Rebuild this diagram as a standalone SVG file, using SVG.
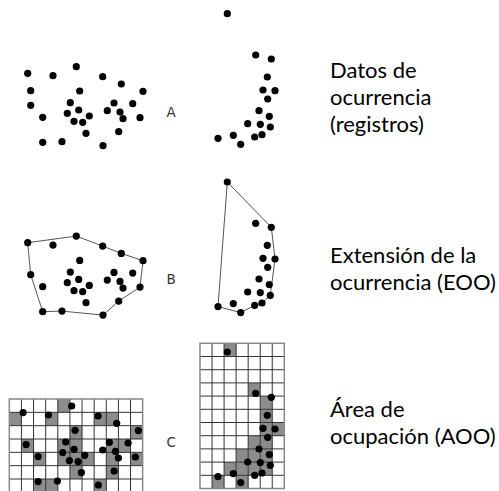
<svg xmlns="http://www.w3.org/2000/svg" xmlns:xlink="http://www.w3.org/1999/xlink" width="499" height="491" viewBox="0 0 499 491">
<style>
.dot{fill:#000}
.hull{fill:none;stroke:#555;stroke-width:1}
.shade{fill:#8c8c8c}
.gl{fill:none;stroke:#333;stroke-width:1}
.gb{fill:none;stroke:#888;stroke-width:1.5}
.lbl{font-family:"DejaVu Sans",sans-serif;font-size:13.5px;fill:#333}
.cap{font-family:Lato,"Open Sans",sans-serif;font-size:22px;fill:#000}
</style>
<defs>
<g id="dotsL" class="dot">
<circle cx="27.7" cy="73.3" r="3.6"/><circle cx="53" cy="75.7" r="3.6"/><circle cx="76.3" cy="66.7" r="3.6"/>
<circle cx="102.7" cy="76.7" r="3.6"/><circle cx="121.3" cy="84" r="3.6"/><circle cx="143" cy="91.3" r="3.6"/>
<circle cx="79.7" cy="91" r="3.6"/><circle cx="30.7" cy="105.3" r="3.6"/><circle cx="70.3" cy="102.7" r="3.6"/>
<circle cx="114" cy="103" r="3.6"/><circle cx="132.7" cy="103.7" r="3.6"/><circle cx="42.7" cy="117.3" r="3.6"/>
<circle cx="67.3" cy="113.3" r="3.6"/><circle cx="78.7" cy="110" r="3.6"/><circle cx="89.3" cy="116" r="3.6"/>
<circle cx="107.3" cy="110.7" r="3.6"/><circle cx="120" cy="112" r="3.6"/><circle cx="123" cy="118.7" r="3.6"/>
<circle cx="140" cy="117.7" r="3.6"/><circle cx="74" cy="121.3" r="3.6"/><circle cx="82.7" cy="122.3" r="3.6"/>
<circle cx="86" cy="133.3" r="3.6"/><circle cx="118.7" cy="131.7" r="3.6"/><circle cx="42.7" cy="142.3" r="3.6"/>
<circle cx="62" cy="141.7" r="3.6"/><circle cx="103" cy="145.7" r="3.6"/>
</g>
<g id="dotsR" class="dot">
<circle cx="227.3" cy="13.7" r="3.6"/><circle cx="255.7" cy="55" r="3.6"/><circle cx="271.3" cy="59" r="3.6"/>
<circle cx="267.3" cy="77" r="3.6"/><circle cx="263" cy="90" r="3.6"/><circle cx="275" cy="90.7" r="3.6"/>
<circle cx="267.7" cy="99" r="3.6"/><circle cx="259" cy="110.7" r="3.6"/><circle cx="269.3" cy="116.3" r="3.6"/>
<circle cx="247.7" cy="123.7" r="3.6"/><circle cx="260.3" cy="124.3" r="3.6"/><circle cx="270.3" cy="127" r="3.6"/>
<circle cx="218" cy="138.3" r="3.6"/><circle cx="233.3" cy="135.3" r="3.6"/><circle cx="240.7" cy="144.3" r="3.6"/>
<circle cx="254.7" cy="137" r="3.6"/><circle cx="262" cy="134.7" r="3.6"/>
</g>
</defs>

<g id="rowA">
<use xlink:href="#dotsL"/>
<circle class="dot" cx="30.7" cy="90.7" r="3.6"/>
<use xlink:href="#dotsR"/>
<text class="lbl" x="166.5" y="116.7">A</text>
</g>

<g id="rowB">
<polygon class="hull" points="27.7,242.7 76.3,236.1 102.7,246.1 121.3,253.4 143,260.7 140,287.1 118.7,301.1 103,315.1 62,311.1 42.7,311.7 30.7,274.7"/>
<use xlink:href="#dotsL" transform="translate(0,169.4)"/>
<polygon class="hull" points="227.3,182 271.3,227.3 275,259 270.3,295.3 262,303 254.7,305.3 240.7,312.6 218,306.6"/>
<use xlink:href="#dotsR" transform="translate(0,168.3)"/>
<text class="lbl" x="166.5" y="283.5">B</text>
</g>

<g id="rowC">
<g class="shade">
<rect x="57.81" y="399" width="12.12" height="13.33"/>
<rect x="9.33" y="412.33" width="12.12" height="13.33"/><rect x="45.69" y="412.33" width="12.12" height="13.33"/><rect x="94.17" y="412.33" width="12.12" height="13.33"/><rect x="106.29" y="412.33" width="12.12" height="13.33"/>
<rect x="69.93" y="425.67" width="12.12" height="13.33"/><rect x="130.53" y="425.67" width="12.12" height="13.33"/>
<rect x="21.45" y="439" width="12.12" height="13.33"/><rect x="57.81" y="439" width="12.12" height="13.33"/><rect x="69.93" y="439" width="12.12" height="13.33"/><rect x="106.29" y="439" width="12.12" height="13.33"/><rect x="118.41" y="439" width="12.12" height="13.33"/>
<rect x="33.57" y="452.33" width="12.12" height="13.33"/><rect x="57.81" y="452.33" width="12.12" height="13.33"/><rect x="69.93" y="452.33" width="12.12" height="13.33"/><rect x="82.05" y="452.33" width="12.12" height="13.33"/><rect x="106.29" y="452.33" width="12.12" height="13.33"/><rect x="130.53" y="452.33" width="12.12" height="13.33"/>
<rect x="69.93" y="465.67" width="12.12" height="13.33"/><rect x="106.29" y="465.67" width="12.12" height="13.33"/>
<rect x="33.57" y="479" width="12.12" height="13.33"/><rect x="45.69" y="479" width="12.12" height="13.33"/><rect x="94.17" y="479" width="12.12" height="13.33"/>

<rect x="224.08" y="343.3" width="12.04" height="13.2"/>
<rect x="248.16" y="382.9" width="12.04" height="13.2"/>
<rect x="260.2" y="396.1" width="12.04" height="13.2"/>
<rect x="260.2" y="409.3" width="12.04" height="13.2"/>
<rect x="260.2" y="422.5" width="12.04" height="13.2"/><rect x="272.24" y="422.5" width="12.04" height="13.2"/>
<rect x="248.16" y="435.7" width="12.04" height="13.2"/><rect x="260.2" y="435.7" width="12.04" height="13.2"/>
<rect x="236.12" y="448.9" width="12.04" height="13.2"/><rect x="248.16" y="448.9" width="12.04" height="13.2"/><rect x="260.2" y="448.9" width="12.04" height="13.2"/>
<rect x="224.08" y="462.1" width="12.04" height="13.2"/><rect x="236.12" y="462.1" width="12.04" height="13.2"/><rect x="248.16" y="462.1" width="12.04" height="13.2"/><rect x="260.2" y="462.1" width="12.04" height="13.2"/>
<rect x="212.04" y="475.3" width="12.04" height="13.2"/><rect x="236.12" y="475.3" width="12.04" height="13.2"/>
</g>
<path class="gl" d="M21.45,399V492M33.57,399V492M45.69,399V492M57.81,399V492M69.93,399V492M82.05,399V492M94.17,399V492M106.29,399V492M118.41,399V492M130.53,399V492
M9.33,412.33H142.65M9.33,425.67H142.65M9.33,439H142.65M9.33,452.33H142.65M9.33,465.67H142.65M9.33,479H142.65"/>
<path class="gb" d="M9.33,492V399H142.65V492"/>
<path class="gl" d="M212.04,343.3V488.5M224.08,343.3V488.5M236.12,343.3V488.5M248.16,343.3V488.5M260.2,343.3V488.5M272.24,343.3V488.5
M200,356.5H284.28M200,369.7H284.28M200,382.9H284.28M200,396.1H284.28M200,409.3H284.28M200,422.5H284.28M200,435.7H284.28M200,448.9H284.28M200,462.1H284.28M200,475.3H284.28"/>
<rect class="gb" x="200" y="343.3" width="84.28" height="145.2"/>
<use xlink:href="#dotsL" transform="translate(-4.6,339.3)"/>
<use xlink:href="#dotsR" transform="translate(0,338.3)"/>
<text class="lbl" x="166.5" y="446.7">C</text>
</g>

<g id="captions" class="cap">
<text x="330" y="78">Datos de</text>
<text x="330" y="105">ocurrencia</text>
<text x="330" y="132">(registros)</text>
<text x="330" y="263">Extensión de la</text>
<text x="330" y="290">ocurrencia (EOO)</text>
<text x="330" y="417">Área de</text>
<text x="330" y="444">ocupación (AOO)</text>
</g>
</svg>
